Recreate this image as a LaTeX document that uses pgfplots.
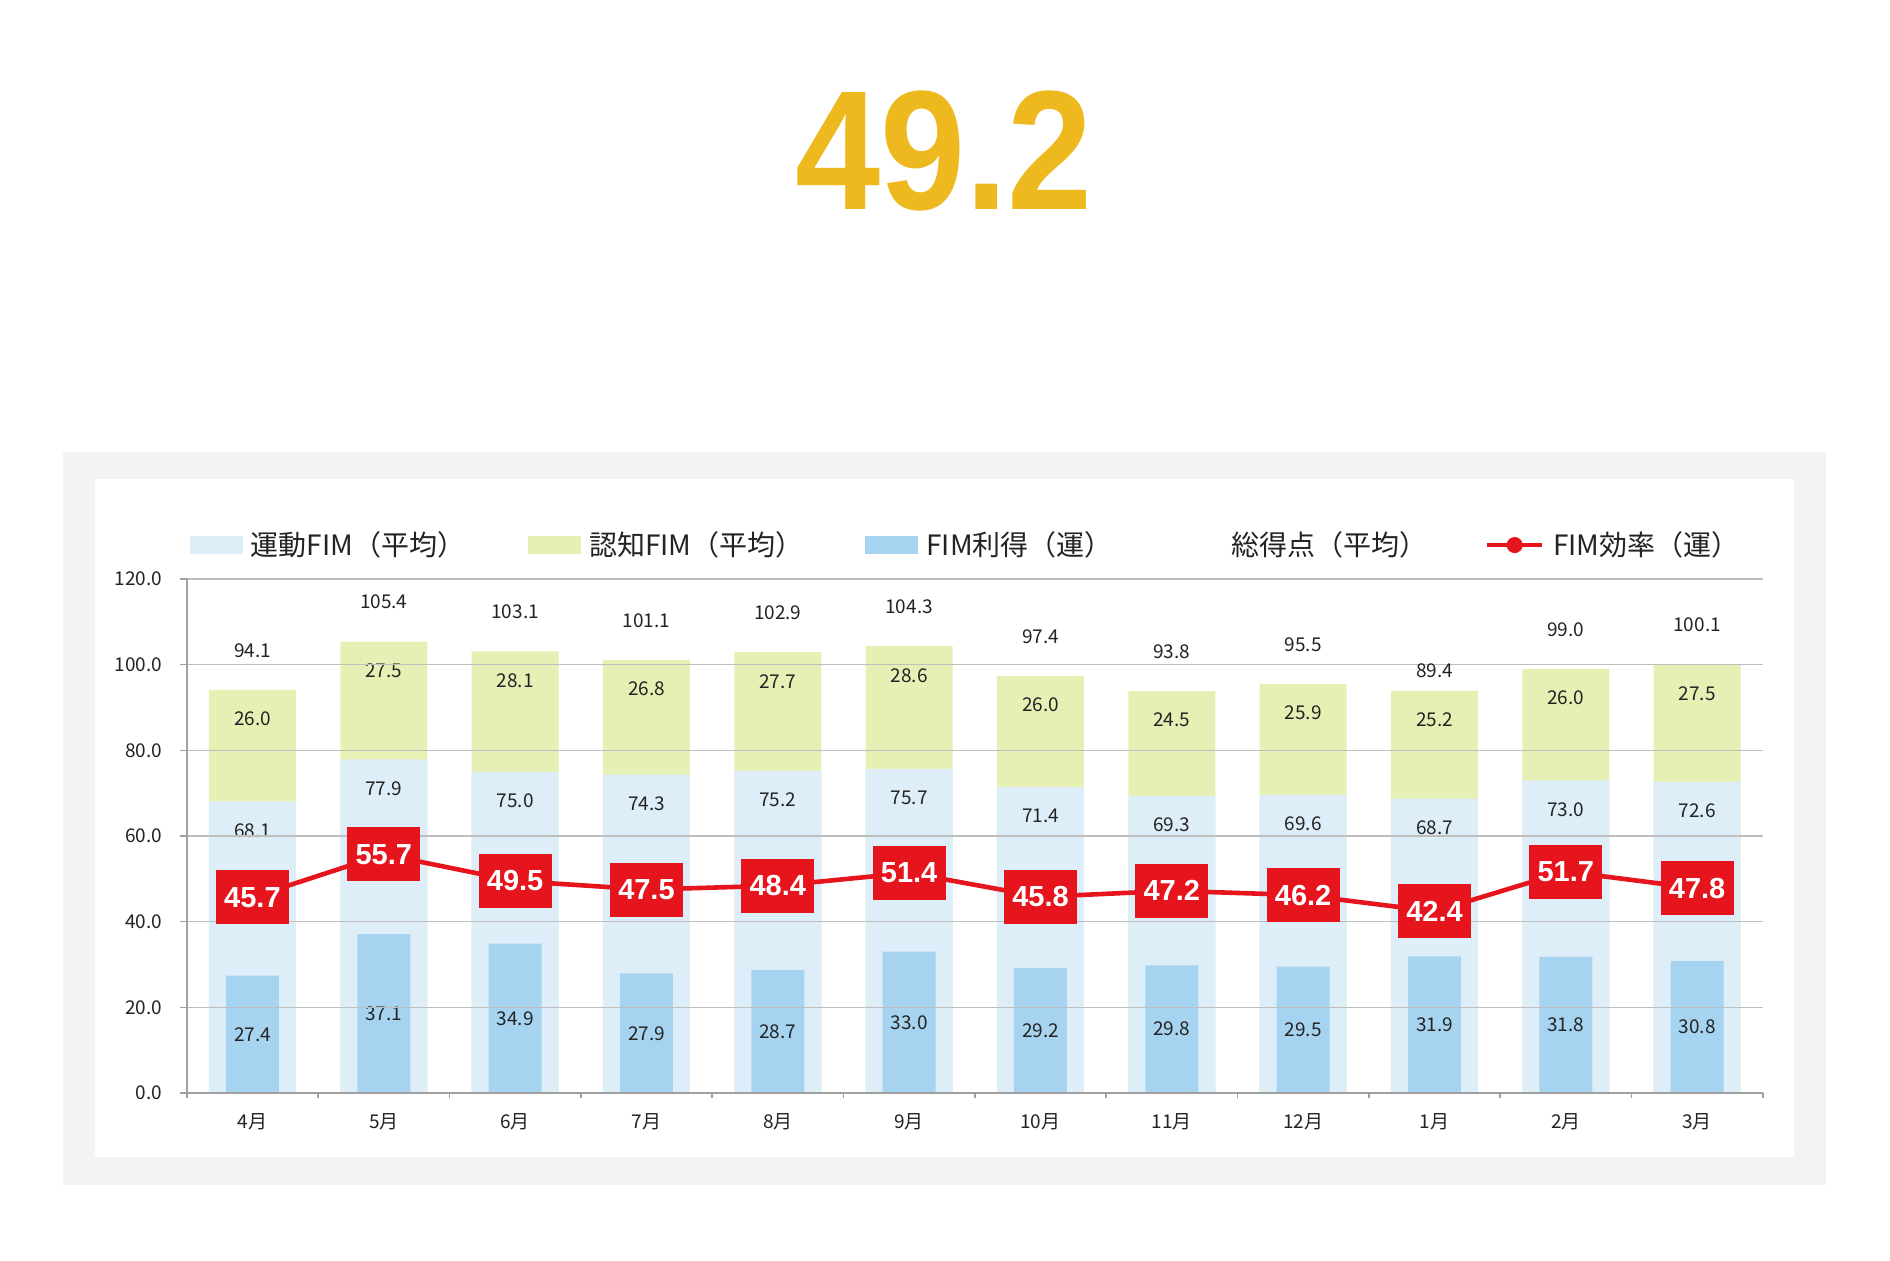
\documentclass[border=0pt]{standalone}
\usepackage{pgfplots}
\pgfplotsset{compat=1.18}
\usepackage{pgfplotstable}
\usepackage{fontspec}
\setmainfont{Noto Sans CJK JP}
\newfontfamily\arialfont{Liberation Sans}
\definecolor{motorc}{RGB}{222,238,249}
\definecolor{cogc}{RGB}{231,240,180}
\definecolor{gainc}{RGB}{166,212,240}
\definecolor{effc}{RGB}{230,20,28}
\definecolor{titlec}{RGB}{238,185,30}
\definecolor{gridc}{RGB}{190,190,190}
\definecolor{axisc}{RGB}{160,160,160}
\definecolor{panelc}{RGB}{243,243,243}
\definecolor{textc}{RGB}{35,35,35}
\pgfplotsset{/pgf/number format/.cd, fixed, fixed zerofill, precision=1, assume math mode=true}
\pgfplotsset{chartframe/.style={
  at={(93.4pt,83.5pt)}, anchor=south west,
  scale only axis, width=788pt, height=257pt,
  xmin=-0.5, xmax=11.5, ymin=0, ymax=120,
  nodes near coords style={font=\fontsize{9.5}{11}\selectfont, text=textc}}}

\pgfplotstableread{
x motor cog top total gain eff
0 68.1 26.0 94.1 94.1 27.4 45.7
1 77.9 27.5 105.4 105.4 37.1 55.7
2 75.0 28.1 103.1 103.1 34.9 49.5
3 74.3 26.8 101.1 101.1 27.9 47.5
4 75.2 27.7 102.9 102.9 28.7 48.4
5 75.7 28.6 104.3 104.3 33.0 51.4
6 71.4 26.0 97.4 97.4 29.2 45.8
7 69.3 24.5 93.8 93.8 29.8 47.2
8 69.6 25.9 95.5 95.5 29.5 46.2
9 68.7 25.2 93.9 89.4 31.9 42.4
10 73.0 26.0 99.0 99.0 31.8 51.7
11 72.6 27.5 100.1 100.1 30.8 47.8
}\datatable

\begin{document}
\begin{tikzpicture}[x=1pt,y=1pt]
\useasboundingbox (0,0) rectangle (945,630);
\fill[white] (0,0) rectangle (945,630);
\fill[panelc] (31.3,37.5) rectangle (913,404);
\fill[white] (47.6,51.5) rectangle (896.8,390.7);
\node[anchor=base, text=titlec, inner sep=0pt, xscale=0.9, transform shape,
  font=\arialfont\bfseries\fontsize{85}{87}\selectfont] at (472,525.3) {49.2};
% bars layer
\begin{axis}[chartframe, hide axis]
\addplot[ybar, bar width=43.5pt, bar shift=0pt, fill=cogc, draw=none,
  point meta=explicit, nodes near coords,
  every node near coord/.append style={anchor=center, yshift=-14.5pt}]
  table[x=x, y=top, meta=cog] {\datatable};
\addplot[ybar, bar width=43.5pt, bar shift=0pt, fill=motorc, draw=none,
  point meta=explicit, nodes near coords,
  every node near coord/.append style={anchor=center, yshift=-14.5pt}]
  table[x=x, y=motor, meta=motor] {\datatable};
\addplot[ybar, bar width=26.5pt, bar shift=0pt, fill=gainc, draw=none,
  point meta=explicit, visualization depends on={\thisrow{gain} \as \gy}, nodes near coords,
  every node near coord/.append style={anchor=center, yshift={-1.0708pt*\gy}}]
  table[x=x, y=gain, meta=gain] {\datatable};
\end{axis}
% grid, axes, line layer
\begin{axis}[chartframe,
  axis x line*=bottom, axis y line*=left,
  axis line style={draw=axisc, line width=0.8pt, -},
  ytick={0,20,...,120},
  ymajorgrids, grid style={draw=gridc, line width=0.7pt},
  xtick={0,...,11},
  xticklabels={4月,5月,6月,7月,8月,9月,10月,11月,12月,1月,2月,3月},
  minor xtick={-0.5,0.5,...,11.5},
  tick align=outside,
  major tick length=3.3pt, minor tick length=2.7pt,
  tick style={draw=axisc, line width=0.8pt},
  major x tick style={draw=none},
  yticklabel style={font=\fontsize{9.5}{11}\selectfont, text=textc, xshift=-5.5pt},
  xticklabel style={font=\fontsize{9.5}{11}\selectfont, text=textc, yshift=-3.5pt},
  legend style={at={(0,1.066)}, anchor=west, xshift=1.25pt, draw=none, fill=none,
    legend columns=5, font=\fontsize{14}{16}\selectfont, text=textc,
    /tikz/every odd column/.append style={column sep=4.2pt},
    /tikz/every even column/.append style={column sep=0pt},
    inner sep=0pt, nodes={inner sep=0pt}},
]
\addlegendimage{legend image code/.code={\fill[motorc] (0pt,-4.25pt) rectangle (26pt,4.25pt);}}
\addlegendentry[text width=138.6pt, align=left]{運動FIM（平均）}
\addlegendimage{legend image code/.code={\fill[cogc] (0pt,-4.25pt) rectangle (26pt,4.25pt);}}
\addlegendentry[text width=138pt, align=left]{認知FIM（平均）}
\addlegendimage{legend image code/.code={\fill[gainc] (0pt,-4.25pt) rectangle (26pt,4.25pt);}}
\addlegendentry[text width=122pt, align=left]{FIM利得（運）}
\addlegendimage{legend image code/.code={\fill[white] (0pt,-4.25pt) rectangle (26pt,4.25pt);}}
\addlegendentry[text width=126.5pt, align=left]{総得点（平均）}
\addlegendimage{legend image code/.code={\draw[effc, line width=2.3pt] (0pt,0pt) -- (27.7pt,0pt); \fill[effc] (13.85pt,0pt) circle (3.8pt);}}
\addlegendentry[align=left]{FIM効率（運）}

\addplot[forget plot, draw=none, mark=none,
  point meta=explicit, nodes near coords,
  every node near coord/.append style={anchor=center, yshift=19.7pt}]
  table[x=x, y=total, meta=total] {\datatable};
\addplot[forget plot, draw=effc, line width=2.3pt, mark=none,
  point meta=explicit, nodes near coords,
  every node near coord/.append style={anchor=center, fill=effc, text=white,
    font=\arialfont\bfseries\fontsize{14.5}{14.5}\selectfont,
    minimum width=36.5pt, minimum height=27pt, inner sep=0pt}]
  table[x=x, y=eff, meta=eff] {\datatable};
\end{axis}
\end{tikzpicture}
\end{document}
